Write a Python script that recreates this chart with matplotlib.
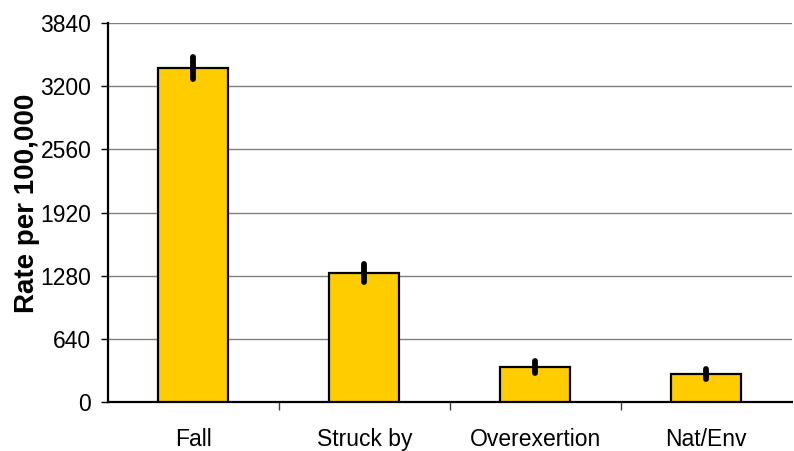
import matplotlib
matplotlib.use("Agg")
import matplotlib.pyplot as plt
import numpy as np

categories = ["Fall", "Struck by", "Overexertion", "Nat/Env"]
rates = [3384, 1307, 355, 284]
errors = [110, 90, 60, 50]
yticks = [0, 640, 1280, 1920, 2560, 3200, 3840]

plt.rcParams['font.family'] = ['Liberation Sans', 'DejaVu Sans']

fig = plt.figure(figsize=(7.94, 4.51), dpi=100)
ax = fig.add_axes([0.136, 0.1086, 0.861, 0.8404])

x = np.arange(len(categories))
ax.bar(x, rates, width=0.41, color="#FFCC00", edgecolor="black", linewidth=1.6, zorder=3)
eb = ax.errorbar(x, rates, yerr=errors, fmt="none", ecolor="black", elinewidth=4.2, capsize=0, zorder=4)
for lc in eb.lines[2]:
    lc.set_capstyle("round")

ax.set_xlim(-0.5, 3.5)
ax.set_ylim(0, 3840)
ax.set_yticks(yticks)
ax.set_yticklabels([str(v) for v in yticks], fontsize=16.5)
ax.yaxis.grid(True, color="#808080", linewidth=1.0, zorder=0)
ax.set_axisbelow(True)

ax.set_xticks(x)
ax.set_xticklabels(categories, fontsize=16.5)
ax.tick_params(axis="x", which="major", length=0, pad=19)
ax.set_xticks([0.5, 1.5, 2.5], minor=True)
ax.tick_params(axis="x", which="minor", length=6, width=1, color="#404040")
ax.tick_params(axis="y", length=5, width=1, pad=7)

for s in ["top", "right"]:
    ax.spines[s].set_visible(False)
ax.spines["left"].set_linewidth(1.6)
ax.spines["bottom"].set_linewidth(1.6)

fig.text(0.0334, 0.55, "Rate per 100,000", rotation=90, ha="center", va="center",
         fontsize=20, fontweight="bold")

fig.savefig("out.png", dpi=100)
